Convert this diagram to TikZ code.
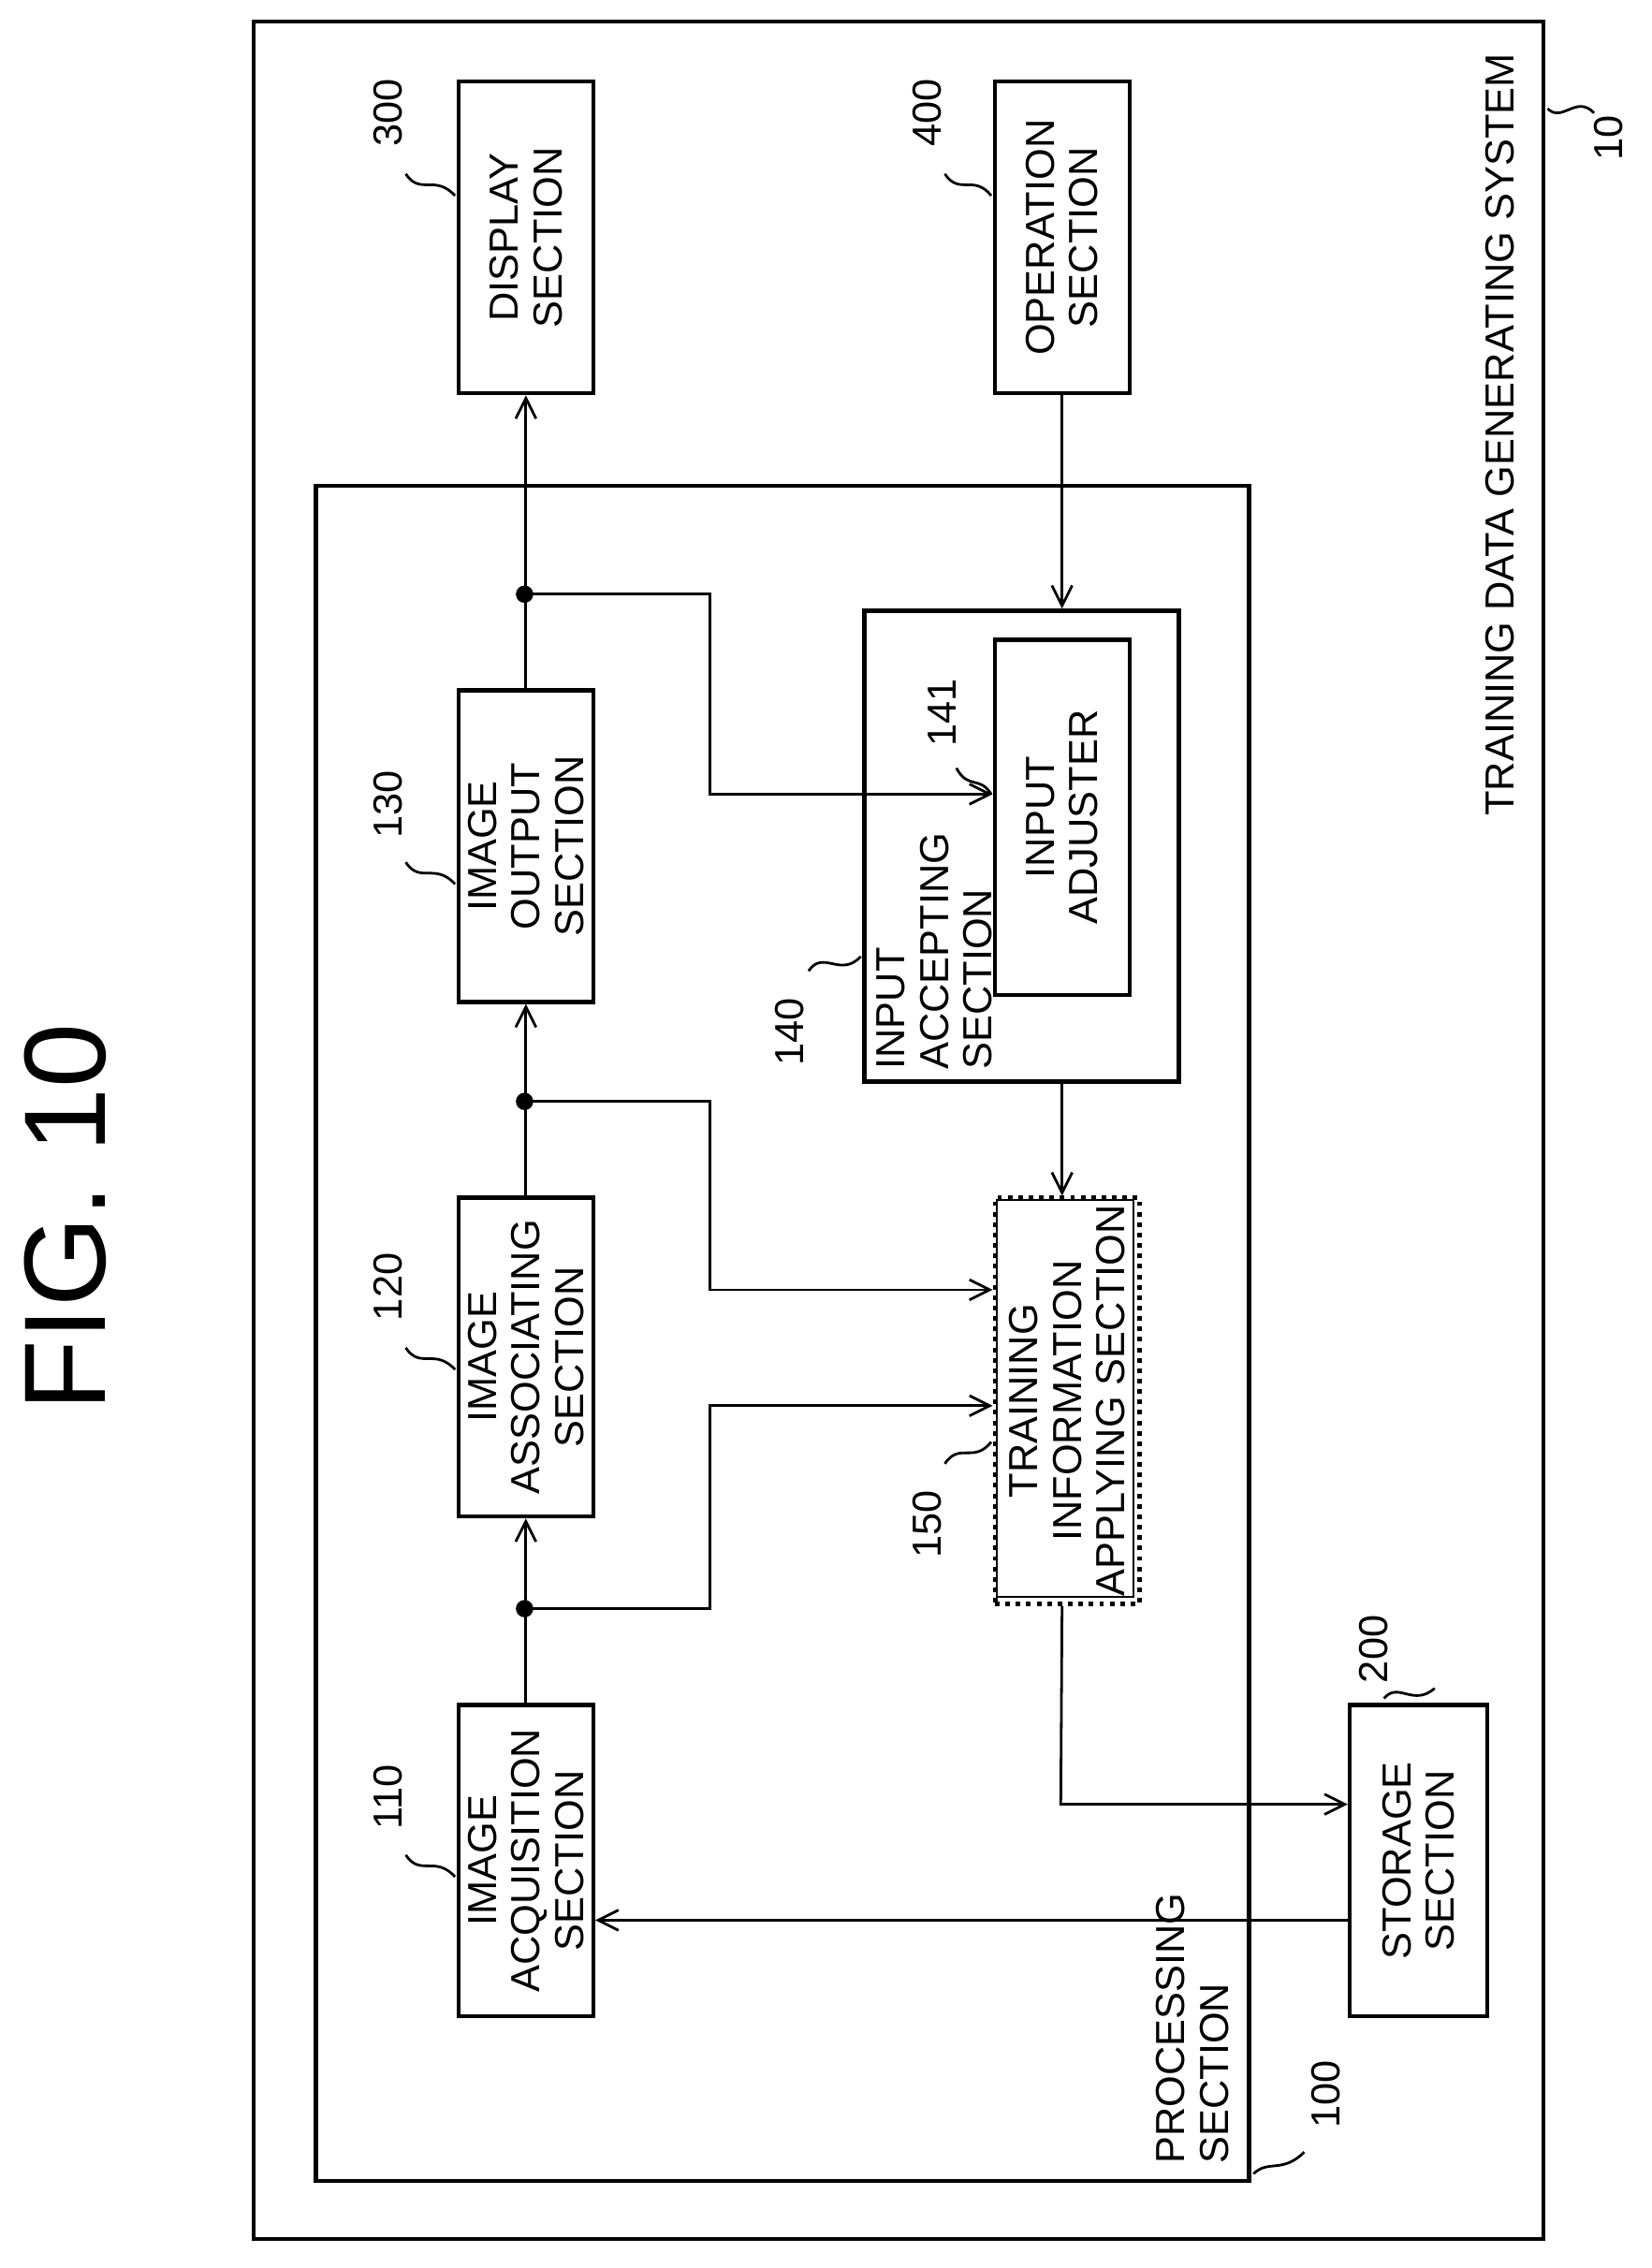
\documentclass[tikz,border=0pt]{standalone}
\usepackage{fontspec}
\setmainfont{Liberation Sans}
\usetikzlibrary{arrows.meta}
\begin{document}
\begin{tikzpicture}[x=0.5pt,y=-0.5pt,
 box/.style={draw,line width=1.4pt,anchor=north west,inner sep=0},
 lbl/.style={rotate=90,align=center,font=\fontsize{14}{15}\selectfont},
 num/.style={rotate=90,font=\fontsize{14}{15}\selectfont},
 ar/.style={-{Straight Barb[length=7pt,width=7pt]},line width=0.9pt},
 ln/.style={line width=0.9pt},
 dot/.style={circle,fill,inner sep=0pt,minimum size=6pt}]
\useasboundingbox (0,0) rectangle (1140,1565);
\node[rotate=90,font=\fontsize{40}{40}\selectfont] (fig) at (45,840) {FIG. 10};
% outer
\draw[line width=1.4pt] (175,15) rectangle (1065,1545);
\node[lbl] (tl) at (1035,300) {TRAINING DATA GENERATING SYSTEM};
\node[num] (n10) at (1110,95) {10};
\draw[ln] (1068,75) .. controls (1078,85) and (1088,65) .. (1100,78);
% processing
\draw[line width=1.4pt] (218,335) rectangle (862,1505);
\node[lbl,align=left,anchor=south west] (pl) at (855,1500) {PROCESSING\\SECTION};
\node[num] (n100) at (915,1445) {100};
\draw[ln] (865,1500) .. controls (875,1490) and (885,1500) .. (900,1485);
% boxes
\node[box,minimum width=46.5pt,minimum height=107.5pt] (disp) at (315,55) {};
\node[lbl] at (disp.center) {DISPLAY\\SECTION};
\node[box,minimum width=46.5pt,minimum height=107.5pt] (oper) at (685,55) {};
\node[lbl] at (oper.center) {OPERATION\\SECTION};
\node[box,minimum width=46.5pt,minimum height=107.5pt] (iout) at (315,475) {};
\node[lbl] at (iout.center) {IMAGE\\OUTPUT\\SECTION};
\node[box,minimum width=46.5pt,minimum height=110pt] (iass) at (315,825) {};
\node[lbl] at (iass.center) {IMAGE\\ASSOCIATING\\SECTION};
\node[box,minimum width=46.5pt,minimum height=107.5pt] (iacq) at (315,1175) {};
\node[lbl] at (iacq.center) {IMAGE\\ACQUISITION\\SECTION};
\node[box,minimum width=108.5pt,minimum height=162.5pt] (iacc) at (595,420) {};
\node[lbl,align=left,anchor=north west] at (598,745) {INPUT\\ACCEPTING\\SECTION};
\node[box,minimum width=46.5pt,minimum height=122.5pt] (iadj) at (685,440) {};
\node[lbl] at (iadj.center) {INPUT\\ADJUSTER};
\node[draw,line width=1.6pt,dotted,minimum width=50pt,minimum height=140pt,anchor=north west,inner sep=0] (tr) at (685,825) {};
\draw[line width=0.6pt] (688,828) rectangle (782,1102);
\node[lbl] at (tr.center) {TRAINING\\INFORMATION\\APPLYING SECTION};
\node[box,minimum width=47.5pt,minimum height=107.5pt] (stor) at (930,1175) {};
\node[lbl] at (stor.center) {STORAGE\\SECTION};
% numbers
\node[num] (n300) at (268,78) {300};
\draw[ln] (280,120) .. controls (290,135) and (300,120) .. (314,135);
\node[num] (n400) at (640,78) {400};
\draw[ln] (652,120) .. controls (662,135) and (672,120) .. (684,135);
\node[num] (n130) at (268,555) {130};
\draw[ln] (280,595) .. controls (290,610) and (300,595) .. (314,610);
\node[num] (n120) at (268,888) {120};
\draw[ln] (280,930) .. controls (290,945) and (300,930) .. (314,945);
\node[num] (n110) at (268,1240) {110};
\draw[ln] (280,1280) .. controls (290,1295) and (300,1280) .. (314,1295);
\node[num] (n140) at (545,712) {140};
\draw[ln] (558,670) .. controls (568,655) and (580,675) .. (594,660);
\node[num] (n141) at (650,492) {141};
\draw[ln] (660,530) .. controls (668,545) and (676,535) .. (684,548);
\node[num] (n150) at (640,1052) {150};
\draw[ln] (652,1010) .. controls (662,995) and (672,1010) .. (684,995);
\node[num] (n200) at (948,1138) {200};
\draw[ln] (955,1172) .. controls (965,1160) and (975,1178) .. (990,1165);
% connectors
\coordinate (d1) at (362,1110);
\coordinate (d2) at (362,760);
\coordinate (d3) at (362,410);
\draw[ar] (iacq.north) -- (iass.south);
\draw[ar] (iass.north) -- (iout.south);
\draw[ar] (iout.north) -- (disp.south);
\node[dot] at (d1) {};\node[dot] at (d2) {};\node[dot] at (d3) {};
\draw[ar] (d1) -- (490,1110) -- (490,970) -- (tr.north west |- 0,970);
\draw[ar] (d2) -- (490,760) -- (490,890) -- (tr.north west |- 0,890);
\draw[ar] (d3) -- (490,410) -- (490,548) -- (iadj.north west |- 0,548);
\draw[ar] (oper.south) -- (iacc.north west -| oper.south);
\draw[ar] (iacc.south west -| oper.south) -- (tr.north west -| oper.south);
\draw[ar] (tr.south west -| oper.south) -- (732,1245) -- (stor.north west |- 0,1245);
\draw[ar] (stor.north west |- 0,1325) -- (iacq.north east |- 0,1325);
\end{tikzpicture}
\end{document}
